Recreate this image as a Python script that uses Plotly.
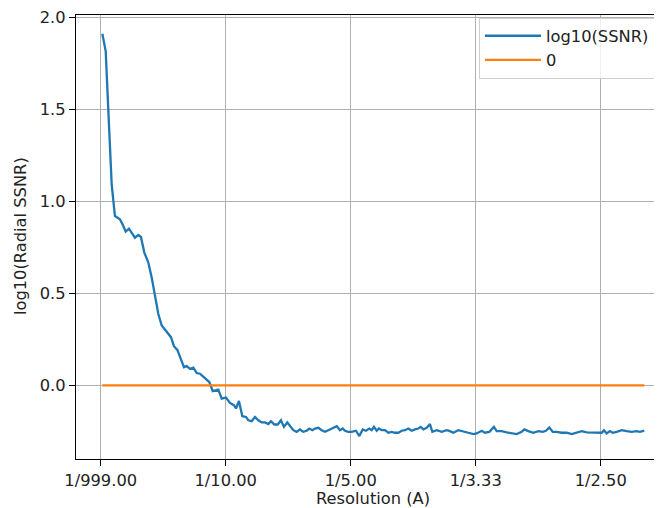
import plotly.graph_objects as go

# Spatial frequency (1/A) and log10(SSNR)
freq = [0.0013, 0.0040, 0.0065, 0.0088, 0.0114, 0.0154, 0.0181, 0.0200, 0.0226, 0.0248,
        0.0274, 0.0301, 0.0322, 0.0349, 0.0381, 0.0408, 0.0434, 0.0461, 0.0488, 0.0528,
        0.0562, 0.0586, 0.0613, 0.0640, 0.0666, 0.0688, 0.0714, 0.0741, 0.0768, 0.0794,
        0.0834, 0.0869, 0.0896, 0.0941, 0.0968, 0.1002, 0.1034, 0.1066, 0.1082, 0.1106,
        0.1133, 0.1162, 0.1181, 0.1208, 0.1234, 0.1261, 0.1288, 0.1314, 0.1341, 0.1362,
        0.1389, 0.1416, 0.1442, 0.1466, 0.1493, 0.1520, 0.1541, 0.1568, 0.1594, 0.1621,
        0.1648, 0.1669, 0.1693, 0.1714, 0.1741, 0.1768, 0.1794, 0.1821, 0.1848, 0.1888,
        0.1914, 0.1936, 0.1954, 0.1981, 0.2008, 0.2042, 0.2069, 0.2096, 0.2122, 0.2149,
        0.2168, 0.2186, 0.2208, 0.2226, 0.2248, 0.2274, 0.2301, 0.2328, 0.2354, 0.2381,
        0.2408, 0.2434, 0.2461, 0.2488, 0.2514, 0.2541, 0.2560, 0.2581, 0.2608, 0.2634,
        0.2653, 0.2688, 0.2728, 0.2768, 0.2794, 0.2821, 0.2861, 0.2901, 0.2941, 0.2981,
        0.3008, 0.3048, 0.3074, 0.3109, 0.3146, 0.3168, 0.3208, 0.3248, 0.3288, 0.3328,
        0.3368, 0.3389, 0.3421, 0.3461, 0.3501, 0.3536, 0.3562, 0.3589, 0.3616, 0.3648,
        0.3688, 0.3728, 0.3768, 0.3808, 0.3848, 0.3888, 0.3928, 0.3968, 0.4008, 0.4026,
        0.4048, 0.4074, 0.4096, 0.4128, 0.4168, 0.4208, 0.4248, 0.4288, 0.4314, 0.4349]

log_ssnr = [1.913, 1.818, 1.435, 1.092, 0.921, 0.903, 0.867, 0.836, 0.852, 0.830,
            0.803, 0.818, 0.807, 0.722, 0.668, 0.587, 0.478, 0.388, 0.325, 0.294,
            0.262, 0.213, 0.193, 0.145, 0.099, 0.105, 0.090, 0.096, 0.067, 0.063,
            0.036, 0.018, -0.031, -0.023, -0.072, -0.067, -0.096, -0.108, -0.126, -0.085,
            -0.168, -0.172, -0.190, -0.195, -0.172, -0.190, -0.202, -0.202, -0.211, -0.195,
            -0.213, -0.213, -0.190, -0.226, -0.202, -0.226, -0.244, -0.253, -0.240, -0.253,
            -0.247, -0.235, -0.244, -0.235, -0.231, -0.244, -0.253, -0.244, -0.235, -0.222,
            -0.244, -0.235, -0.247, -0.253, -0.253, -0.247, -0.276, -0.240, -0.247, -0.235,
            -0.244, -0.226, -0.247, -0.235, -0.244, -0.244, -0.258, -0.253, -0.258, -0.258,
            -0.247, -0.244, -0.235, -0.247, -0.240, -0.235, -0.226, -0.240, -0.231, -0.211,
            -0.253, -0.244, -0.253, -0.244, -0.249, -0.258, -0.244, -0.249, -0.258, -0.265,
            -0.262, -0.247, -0.258, -0.253, -0.226, -0.249, -0.249, -0.256, -0.262, -0.265,
            -0.253, -0.240, -0.249, -0.258, -0.249, -0.253, -0.247, -0.229, -0.253, -0.253,
            -0.258, -0.258, -0.265, -0.258, -0.249, -0.256, -0.258, -0.258, -0.258, -0.244,
            -0.262, -0.249, -0.258, -0.253, -0.244, -0.249, -0.253, -0.249, -0.253, -0.247]

zero_level = [0.0, 0.0]
zero_x = [freq[0], freq[-1]]

x_tickvals = [0.0, 0.1, 0.2, 0.3, 0.4]
x_ticktext = ["1/999.00", "1/10.00", "1/5.00", "1/3.33", "1/2.50"]
y_tickvals = [0.0, 0.5, 1.0, 1.5, 2.0]
y_ticktext = ["0.0", "0.5", "1.0", "1.5", "2.0"]

FONT = "DejaVu Sans, Arial, sans-serif"
FS = 16.3

fig = go.Figure()
fig.add_trace(go.Scatter(x=freq, y=log_ssnr, mode="lines", name="log10(SSNR)",
                         line=dict(color="#1f77b4", width=2.3)))
fig.add_trace(go.Scatter(x=zero_x, y=zero_level, mode="lines", name="0",
                         line=dict(color="#ff7f0e", width=2.3)))

axis_common = dict(showgrid=True, gridcolor="#b0b0b0", gridwidth=1.2,
                   showline=True, linecolor="black", linewidth=1.2,
                   ticks="outside", ticklen=6, tickcolor="black", tickwidth=1.2,
                   zeroline=False, ticklabeloverflow="allow",
                   tickfont=dict(family=FONT, size=FS, color="#222222"))

fig.update_xaxes(range=[-0.01976, 0.44904], tickvals=x_tickvals, ticktext=x_ticktext,
                 mirror=True, **axis_common)
fig.update_yaxes(range=[-0.4008, 2.0146], tickvals=y_tickvals, ticktext=y_ticktext,
                 mirror=False, **axis_common)

# page body has an 8px margin, so the figure is 8px smaller and shifted
fig.update_layout(
    width=654, height=500,
    margin=dict(l=68, r=0, t=5, b=49),
    paper_bgcolor="white", plot_bgcolor="white",
    font=dict(family=FONT, size=FS, color="#222222"),
    showlegend=True,
    legend=dict(x=0.988, y=0.994, xanchor="right", yanchor="top",
                bgcolor="rgba(255,255,255,0.8)", bordercolor="#d0d0d0", borderwidth=1,
                font=dict(family=FONT, size=FS, color="#222222"),
                itemwidth=56, tracegroupgap=0),
    annotations=[
        dict(text="Resolution (A)", xref="paper", yref="paper", x=0.5068, y=-0.088,
             showarrow=False, xanchor="center", yanchor="middle",
             font=dict(family=FONT, size=FS, color="#222222")),
        dict(text="log10(Radial SSNR)", xref="paper", yref="paper", x=-0.0956, y=0.502,
             showarrow=False, xanchor="center", yanchor="middle", textangle=-90,
             font=dict(family=FONT, size=FS, color="#222222")),
    ],
)

fig.write_html("out.html")
